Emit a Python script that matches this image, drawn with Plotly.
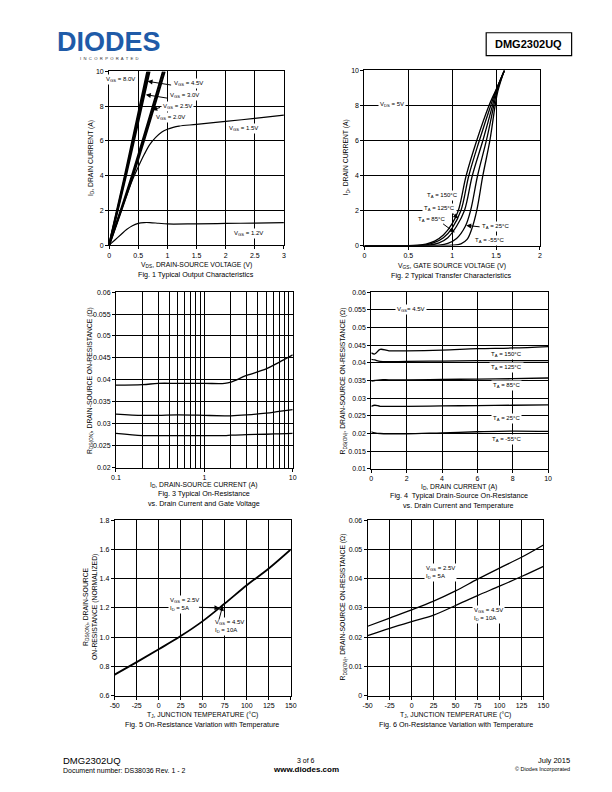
import plotly.graph_objects as go

FONT = "Liberation Sans, Arial, sans-serif"
W, H = 612, 792

# ---------------- DATA ----------------
# Fig 1: Typical output characteristics (VDS in V, ID in A)
f1_vds_8v0 = [0.0, 0.27, 0.655]
f1_id_8v0 = [0.0, 4.0, 10.0]
f1_vds_4v5 = [0.0, 0.28, 0.675]
f1_id_4v5 = [0.0, 4.0, 10.0]
f1_vds_3v0 = [0.0, 0.29, 0.695]
f1_id_3v0 = [0.0, 4.0, 10.0]
f1_vds_2v5 = [0.0, 0.41, 0.925]
f1_id_2v5 = [0.0, 4.2, 10.0]
f1_vds_2v0 = [0.0, 0.43, 0.955]
f1_id_2v0 = [0.0, 4.2, 10.0]
f1_vds_1v5 = [0, 0.1, 0.2, 0.3, 0.4, 0.5, 0.6, 0.7, 0.8, 0.9, 1.0, 1.1, 1.2, 1.5, 2.0, 2.5, 3.0]
f1_id_1v5 = [0, 0.95, 1.9, 2.85, 3.75, 4.5, 5.2, 5.8, 6.2, 6.5, 6.67, 6.78, 6.85, 6.95, 7.12, 7.3, 7.48]
f1_vds_1v2 = [0, 0.1, 0.2, 0.3, 0.4, 0.5, 0.6, 0.7, 0.85, 1.0, 1.5, 2.0, 2.5, 3.0]
f1_id_1v2 = [0, 0.3, 0.6, 0.9, 1.12, 1.25, 1.3, 1.3, 1.26, 1.22, 1.23, 1.25, 1.27, 1.3]

# Fig 2: Typical transfer characteristics (VGS in V, ID in A)
f2_vgs_150 = [0, 0.5, 0.6, 0.7, 0.8, 0.9, 1.0, 1.07, 1.16, 1.28, 1.42, 1.5, 1.595]
f2_id_150 = [0, 0.0, 0.02, 0.08, 0.25, 0.6, 1.25, 2.0, 4.0, 6.0, 8.0, 8.9, 10.0]
f2_vgs_125 = [0, 0.6, 0.7, 0.8, 0.9, 1.0, 1.1, 1.19, 1.31, 1.44, 1.5, 1.595]
f2_id_125 = [0, 0.0, 0.04, 0.18, 0.45, 1.0, 2.0, 4.0, 6.0, 8.0, 8.85, 10.0]
f2_vgs_85 = [0, 0.65, 0.75, 0.85, 0.95, 1.05, 1.14, 1.23, 1.35, 1.46, 1.5, 1.595]
f2_id_85 = [0, 0.0, 0.03, 0.15, 0.45, 1.1, 2.0, 4.0, 6.0, 8.0, 8.8, 10.0]
f2_vgs_25 = [0, 0.75, 0.85, 0.95, 1.05, 1.15, 1.21, 1.29, 1.39, 1.475, 1.51, 1.595]
f2_id_25 = [0, 0.0, 0.02, 0.12, 0.4, 1.1, 2.0, 4.0, 6.0, 8.0, 8.8, 10.0]
f2_vgs_m55 = [0, 0.9, 1.0, 1.1, 1.17, 1.22, 1.28, 1.35, 1.43, 1.49, 1.52, 1.595]
f2_id_m55 = [0, 0.0, 0.02, 0.1, 0.35, 0.9, 2.0, 4.0, 6.0, 8.0, 8.8, 10.0]

# Fig 3: On-resistance vs drain current and gate voltage (ID in A, RDS in ohm)
f3_id = [0.1, 0.2, 0.3, 0.5, 1.0, 1.7, 2.0, 3.0, 5.0, 7.0, 10.0]
f3_r_1v8 = [0.0388, 0.0389, 0.0392, 0.0392, 0.0392, 0.0392, 0.0395, 0.0410, 0.0425, 0.0440, 0.0457]
f3_r_2v5 = [0.0322, 0.0319, 0.0319, 0.0320, 0.0319, 0.0318, 0.0318, 0.0320, 0.0324, 0.0328, 0.0332]
f3_r_4v5 = [0.0278, 0.0273, 0.0273, 0.0273, 0.0273, 0.0273, 0.0274, 0.0275, 0.0276, 0.0277, 0.0278]

# Fig 4: On-resistance vs drain current and temperature
f4_id = [0.0, 0.2, 0.5, 1.0, 2.0, 4.0, 6.0, 8.0, 10.0]
f4_r_150 = [0.0428, 0.0425, 0.0438, 0.0434, 0.0434, 0.0436, 0.0440, 0.0442, 0.0446]
f4_r_125 = [0.0410, 0.0408, 0.0404, 0.0403, 0.0404, 0.0405, 0.0406, 0.0406, 0.0406]
f4_r_85 = [0.0348, 0.0350, 0.0352, 0.0352, 0.0352, 0.0353, 0.0354, 0.0355, 0.0357]
f4_r_25 = [0.0277, 0.0280, 0.0277, 0.0277, 0.0277, 0.0278, 0.0279, 0.0280, 0.0281]
f4_r_m55 = [0.0205, 0.0202, 0.0200, 0.0199, 0.0199, 0.0202, 0.0205, 0.0207, 0.0206]

# Fig 5 / Fig 6: temperature dependence
tj = [-50, -25, 0, 25, 50, 75, 100, 125, 150]
f5_r_norm = [0.745, 0.83, 0.918, 1.008, 1.11, 1.23, 1.355, 1.47, 1.60]
f6_r_2v5 = [0.0237, 0.0265, 0.0293, 0.0323, 0.0358, 0.0398, 0.0436, 0.0473, 0.0515]
f6_r_4v5 = [0.0205, 0.0230, 0.0253, 0.0275, 0.0308, 0.0342, 0.0374, 0.0407, 0.0442]

# Tick labels
f1_xticks = [0, 0.5, 1, 1.5, 2, 2.5, 3]
f1_xlabels = ["0", "0.5", "1", "1.5", "2", "2.5", "3"]
f12_yticks = [0, 2, 4, 6, 8, 10]
f12_ylabels = ["0", "2", "4", "6", "8", "10"]
f2_xticks = [0, 0.5, 1, 1.5, 2]
f2_xlabels = ["0", "0.5", "1", "1.5", "2"]
f3_xticks = [0.1, 1, 10]
f3_xlabels = ["0.1", "1", "10"]
f3_xminor = [0.2, 0.3, 0.4, 0.5, 0.6, 0.7, 0.8, 0.9, 2, 3, 4, 5, 6, 7, 8, 9]
f3_yticks = [0.02, 0.025, 0.03, 0.035, 0.04, 0.045, 0.05, 0.055, 0.06]
f3_ylabels = ["0.02", "0.025", "0.03", "0.035", "0.04", "0.045", "0.05", "0.055", "0.06"]
f4_xticks = [0, 2, 4, 6, 8, 10]
f4_xlabels = ["0", "2", "4", "6", "8", "10"]
f4_yticks = [0.01, 0.015, 0.02, 0.025, 0.03, 0.035, 0.04, 0.045, 0.05, 0.055, 0.06]
f4_ylabels = ["0.01", "0.015", "0.02", "0.025", "0.03", "0.035", "0.04", "0.045", "0.05", "0.055", "0.06"]
tj_ticks = [-50, -25, 0, 25, 50, 75, 100, 125, 150]
tj_labels = ["-50", "-25", "0", "25", "50", "75", "100", "125", "150"]
f5_yticks = [0.6, 0.8, 1.0, 1.2, 1.4, 1.6, 1.8]
f5_ylabels = ["0.6", "0.8", "1.0", "1.2", "1.4", "1.6", "1.8"]
f6_yticks = [0, 0.01, 0.02, 0.03, 0.04, 0.05, 0.06]
f6_ylabels = ["0", "0.01", "0.02", "0.03", "0.04", "0.05", "0.06"]

# ---------------- FIGURE ----------------
fig = go.Figure()


def px(x):
    return x / W


def py(y):
    return 1 - y / H


def add_line(x, y, n, width=1.2, shape="linear"):
    ax = "" if n == 1 else str(n)
    fig.add_trace(go.Scatter(x=x, y=y, mode="lines", xaxis="x" + ax, yaxis="y" + ax,
                             line=dict(color="black", width=width, shape=shape),
                             hoverinfo="skip", showlegend=False))


# Fig 1
for xs, ys in [(f1_vds_8v0, f1_id_8v0), (f1_vds_4v5, f1_id_4v5), (f1_vds_3v0, f1_id_3v0),
               (f1_vds_2v5, f1_id_2v5), (f1_vds_2v0, f1_id_2v0)]:
    add_line(xs, ys, 1, width=2.0, shape="spline")
add_line(f1_vds_1v5, f1_id_1v5, 1, width=1.2, shape="spline")
add_line(f1_vds_1v2, f1_id_1v2, 1, width=1.2, shape="spline")

# Fig 2
for xs, ys in [(f2_vgs_150, f2_id_150), (f2_vgs_125, f2_id_125), (f2_vgs_85, f2_id_85),
               (f2_vgs_25, f2_id_25), (f2_vgs_m55, f2_id_m55)]:
    add_line(xs, ys, 2, width=1.3, shape="spline")

# Fig 3
for ys in [f3_r_1v8, f3_r_2v5, f3_r_4v5]:
    add_line(f3_id, ys, 3, width=1.3, shape="spline")

# Fig 4
for ys in [f4_r_150, f4_r_125, f4_r_85, f4_r_25, f4_r_m55]:
    add_line(f4_id, ys, 4, width=1.3, shape="spline")

# Fig 5
add_line(tj, f5_r_norm, 5, width=1.8, shape="spline")

# Fig 6
add_line(tj, f6_r_2v5, 6, width=1.3, shape="spline")
add_line(tj, f6_r_4v5, 6, width=1.3, shape="spline")


def axis(dom, rng, tv, tt, typ="linear", minor=None):
    d = dict(domain=dom, range=rng, type=typ, tickmode="array", tickvals=tv, ticktext=tt,
             showline=True, linecolor="black", linewidth=1, mirror=True,
             showgrid=True, gridcolor="black", gridwidth=1, zeroline=False,
             ticks="outside", ticklen=3, tickwidth=1, tickcolor="black",
             tickfont=dict(family=FONT, size=7, color="black"), fixedrange=True)
    if minor is not None:
        d["minor"] = dict(tickmode="array", tickvals=minor, showgrid=True,
                          gridcolor="black", gridwidth=1, ticks="")
    return d


def xd(x0, x1):
    return [px(x0), px(x1)]


def yd(y0, y1):
    return [py(y1), py(y0)]


boxes = {
    1: ((106, 284), (68, 243.3)),
    2: ((366, 544.7), (67, 243.7)),
    3: ((113, 293), (290.7, 467.7)),
    4: ((373, 553), (290.7, 469)),
    5: ((111.7, 291), (520.7, 698)),
    6: ((369.3, 548.3), (520.7, 697.7)),
}

lay = {}
specs = {
    1: (([0, 3], f1_xticks, f1_xlabels, "linear", None), ([0, 10], f12_yticks, f12_ylabels)),
    2: (([0, 2], f2_xticks, f2_xlabels, "linear", None), ([0, 10], f12_yticks, f12_ylabels)),
    3: (([-1, 1], f3_xticks, f3_xlabels, "log", f3_xminor), ([0.02, 0.06], f3_yticks, f3_ylabels)),
    4: (([0, 10], f4_xticks, f4_xlabels, "linear", None), ([0.01, 0.06], f4_yticks, f4_ylabels)),
    5: (([-50, 150], tj_ticks, tj_labels, "linear", None), ([0.6, 1.8], f5_yticks, f5_ylabels)),
    6: (([-50, 150], tj_ticks, tj_labels, "linear", None), ([0, 0.06], f6_yticks, f6_ylabels)),
}
for n, ((xr, xtv, xtt, xtyp, xmin), (yr, ytv, ytt)) in specs.items():
    (x0, x1), (y0, y1) = boxes[n]
    s = "" if n == 1 else str(n)
    xa = axis(xd(x0, x1), xr, xtv, xtt, xtyp, xmin)
    xa["anchor"] = "y" + s
    ya = axis(yd(y0, y1), yr, ytv, ytt)
    ya["anchor"] = "x" + s
    lay["xaxis" + s] = xa
    lay["yaxis" + s] = ya

fig.update_layout(**lay)

ann = []


def txt(x, y, text, size=7, angle=0, bold=False, xanchor="center", color="black"):
    if bold:
        text = "<b>" + text + "</b>"
    ann.append(dict(x=px(x), y=py(y), xref="paper", yref="paper", text=text, showarrow=False,
                    textangle=angle, xanchor=xanchor, yanchor="middle",
                    font=dict(family=FONT, size=size, color=color)))


def lab(n, x, y, text, size=6, bg=True):
    s = "" if n == 1 else str(n)
    ann.append(dict(x=x, y=y, xref="x" + s, yref="y" + s, text=text, showarrow=False,
                    xanchor="center", yanchor="middle", align="left",
                    bgcolor="white" if bg else None, borderpad=1,
                    font=dict(family=FONT, size=size, color="black")))


def arrow(n, xh, yh, xt, yt):
    s = "" if n == 1 else str(n)
    ann.append(dict(x=xh, y=yh, ax=xt, ay=yt, xref="x" + s, yref="y" + s,
                    axref="x" + s, ayref="y" + s, text="", showarrow=True,
                    arrowhead=2, arrowsize=1, arrowwidth=1, arrowcolor="black"))


# Fig 1 labels
lab(1, 0.2, 9.52, "V<sub>GS</sub> = 8.0V")
lab(1, 1.37, 9.33, "V<sub>GS</sub> = 4.5V")
arrow(1, 0.66, 9.43, 1.09, 9.2)
lab(1, 1.29, 8.6, "V<sub>GS</sub> = 3.0V")
arrow(1, 0.63, 8.66, 1.02, 8.45)
lab(1, 1.17, 8.0, "V<sub>GS</sub> = 2.5V")
arrow(1, 0.74, 7.78, 0.9, 7.95)
lab(1, 1.06, 7.33, "V<sub>GS</sub> = 2.0V")
lab(1, 2.31, 6.72, "V<sub>GS</sub> = 1.5V")
lab(1, 2.4, 0.66, "V<sub>GS</sub> = 1.2V")

# Fig 2 labels
lab(2, 0.31, 8.07, "V<sub>DS</sub> = 5V")
lab(2, 0.89, 2.85, "T<sub>A</sub> = 150°C")
lab(2, 0.86, 2.13, "T<sub>A</sub> = 125°C")
arrow(2, 1.07, 1.55, 0.99, 1.9)
lab(2, 0.76, 1.49, "T<sub>A</sub> = 85°C")
arrow(2, 1.03, 0.74, 0.88, 1.3)
lab(2, 1.49, 1.06, "T<sub>A</sub> = 25°C")
arrow(2, 1.16, 1.15, 1.33, 1.06)
lab(2, 1.42, 0.3, "T<sub>A</sub> = -55°C")

# Fig 3 labels
lab(3, 3.16, 0.0374, "V<sub>GS</sub>= 1.8V")
lab(3, 3.16, 0.0305, "V<sub>GS</sub>= 2.5V")
lab(3, 3.16, 0.0248, "V<sub>GS</sub>= 4.5V")

# Fig 4 labels
lab(4, 2.25, 0.0551, "V<sub>GS</sub>= 4.5V")
lab(4, 7.63, 0.0424, "T<sub>A</sub> = 150°C")
lab(4, 7.63, 0.0387, "T<sub>A</sub> = 125°C")
lab(4, 7.63, 0.0335, "T<sub>A</sub> = 85°C")
lab(4, 7.63, 0.0243, "T<sub>A</sub> = 25°C")
lab(4, 7.63, 0.0184, "T<sub>A</sub> = -55°C")

# Fig 5 labels
lab(5, 29, 1.226, "V<sub>GS</sub> = 2.5V<br>I<sub>D</sub> = 5A")
arrow(5, 69, 1.2, 44, 1.205)
lab(5, 80, 1.07, "V<sub>GS</sub> = 4.5V<br>I<sub>D</sub> = 10A")
arrow(5, 72.7, 1.215, 68, 1.11)

# Fig 6 labels
lab(6, 33.4, 0.042, "V<sub>GS</sub> = 2.5V<br>I<sub>D</sub> = 5A")
lab(6, 87.4, 0.0278, "V<sub>GS</sub> = 4.5V<br>I<sub>D</sub> = 10A")

# Axis titles
TS = 6.8
txt(87, 155, "I<sub>D</sub>, DRAIN CURRENT (A)", TS, -90)
txt(195, 263, "V<sub>DS</sub>, DRAIN-SOURCE VOLTAGE (V)", TS)
txt(347, 155, "I<sub>D</sub>, DRAIN CURRENT (A)", TS, -90)
txt(455, 264, "V<sub>GS</sub>, GATE SOURCE VOLTAGE (V)", TS)
txt(86, 380, "R<sub>DS(ON)</sub>, DRAIN-SOURCE ON-RESISTANCE (Ω)", TS, -90)
txt(203, 485, "I<sub>D</sub>, DRAIN-SOURCE CURRENT (A)", TS)
txt(344, 380, "R<sub>DS(ON)</sub>, DRAIN-SOURCE ON-RESISTANCE (Ω)", TS, -90)
txt(462, 487, "I<sub>D</sub>, DRAIN CURRENT (A)", TS)
txt(87, 608, "R<sub>DS(ON)</sub>, DRAIN-SOURCE<br>ON-RESISTANCE (NORMALIZED)", TS, -90)
txt(201, 717, "T<sub>J</sub>, JUNCTION TEMPERATURE (°C)", TS)
txt(344, 608, "R<sub>DS(ON)</sub>, DRAIN-SOURCE ON-RESISTANCE (Ω)", TS, -90)
txt(459, 717, "T<sub>J</sub>, JUNCTION TEMPERATURE (°C)", TS)

# Captions
CS = 7.2
txt(195, 273, "Fig. 1 Typical Output Characteristics", CS)
txt(455, 274, "Fig. 2 Typical Transfer Characteristics", CS)
txt(203, 494, "Fig. 3 Typical On-Resistance", CS)
txt(203, 504, "vs. Drain Current and Gate Voltage", CS)
txt(462, 496, "Fig. 4  Typical Drain-Source On-Resistance", CS)
txt(462, 506, "vs. Drain Current and Temperature", CS)
txt(201, 727, "Fig. 5 On-Resistance Variation with Temperature", CS)
txt(459, 727, "Fig. 6 On-Resistance Variation with Temperature", CS)

# Header
txt(106, 38, "DIODES", 27, bold=True, color="#1f5ba8")
txt(106, 55, "I  N  C  O  R  P  O  R  A  T  E  D", 4.2, color="#333333")
txt(533, 40, "DMG2302UQ", 11, bold=True)

# Footer
txt(57, 763, "DMG2302UQ", 9.5, xanchor="left")
txt(57, 773, "Document number: DS38036 Rev. 1 - 2", 7, xanchor="left")
txt(306, 763, "3 of 6", 7)
txt(306, 772, "www.diodes.com", 8, bold=True)
txt(577, 763, "July 2015", 7.5, xanchor="right")
txt(577, 772, "© Diodes Incorporated", 5.5, xanchor="right")

fig.update_layout(
    width=W, height=H, margin=dict(l=0, r=0, t=0, b=0),
    paper_bgcolor="white", plot_bgcolor="white", showlegend=False,
    font=dict(family=FONT, size=7, color="black"),
    annotations=ann,
    shapes=[dict(type="rect", xref="paper", yref="paper", x0=px(490), x1=px(577),
                 y0=py(52), y1=py(29), line=dict(color="black", width=1.2))],
)

fig.write_html("out.html", config={"displayModeBar": False},
               post_script="document.body.style.margin='0';document.body.style.overflow='hidden';")
